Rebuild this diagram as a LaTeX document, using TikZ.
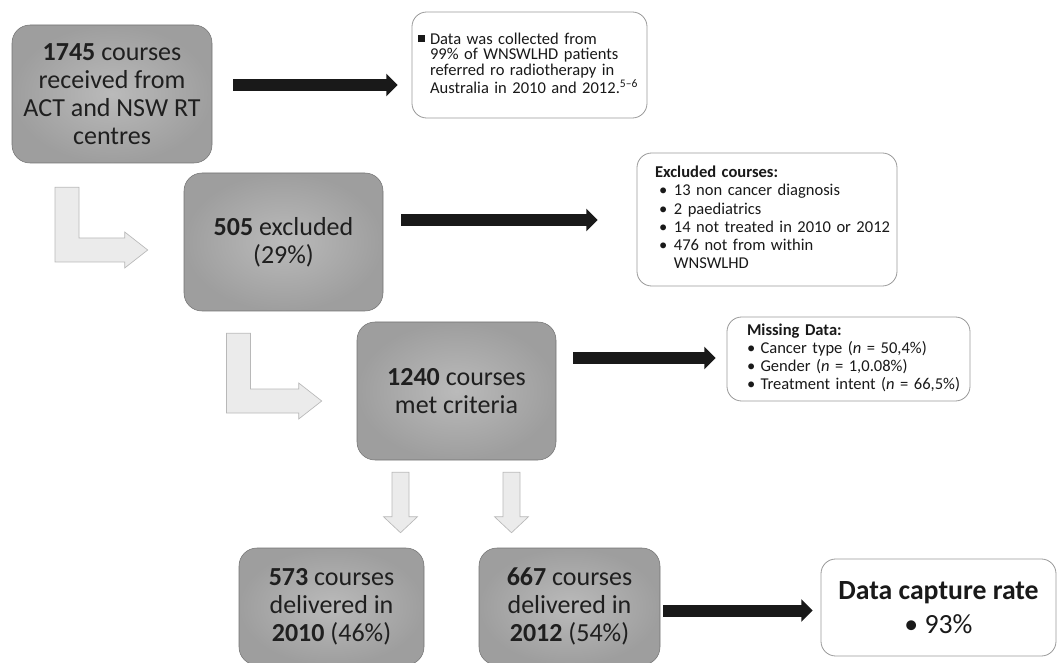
\documentclass[tikz,border=0pt]{standalone}
\usepackage{fontspec}
\setmainfont{Carlito}
\usetikzlibrary{arrows.meta,calc}

\tikzset{
  grbox/.style={rounded corners=13.5pt, draw=black!55, inner color=black!27, outer color=black!38,
    align=center, text=black!88, font=\fontsize{19.5}{21}\selectfont},
  notebox/.style={rounded corners=11pt, draw=black!40, line width=0.6pt, fill=white,
    align=left, text=black!90, font=\fontsize{12.4}{13.6}\selectfont},
  blackarr/.style={line width=9pt, draw=black!90, -{Triangle[length=8.5pt,width=16.5pt]}},
  lightarr/.style={fill=black!8, draw=black!28, line width=0.5pt},
}

% block arrows: L shape (top of bar, tip) and straight down (top, tip)
\newcommand{\lblock}[2]{%
  \filldraw[lightarr] ($(#1)+(-12,0)$) -- ($(#1)+(12,0)$) -- ($(#1 |- #2)+(12,-12)$)
    -- ($(#2)+(-23,-12)$) -- ($(#2)+(-23,-18)$) -- (#2) -- ($(#2)+(-23,18)$)
    -- ($(#2)+(-23,12)$) -- ($(#1 |- #2)+(-12,12)$) -- cycle;}
\newcommand{\dblock}[2]{%
  \filldraw[lightarr] ($(#1)+(-8.5,0)$) -- ($(#1)+(8.5,0)$) -- ($(#2)+(8.5,-16)$)
    -- ($(#2)+(17,-16)$) -- (#2) -- ($(#2)+(-17,-16)$) -- ($(#2)+(-8.5,-16)$) -- cycle;}

\begin{document}
\begin{tikzpicture}[x=0.75pt,y=0.75pt,yscale=-1,xscale=1]
  \useasboundingbox (0,0) rectangle (1058,663);

  % main boxes
  \node[grbox, minimum width=150pt, minimum height=103.5pt] (b1) at (112,94)
    {\textbf{1745} courses\\received from\\ACT and NSW RT\\centres};
  \node[grbox, minimum width=149.25pt, minimum height=103.5pt] (b2) at (283.5,242)
    {\textbf{505} excluded\\(29\%)};
  \node[grbox, minimum width=149.25pt, minimum height=103.5pt] (b3) at (456.5,391)
    {\textbf{1240} courses\\met criteria};
  \node[grbox, minimum width=138.75pt, minimum height=87.75pt] (b4) at (331.5,606.5)
    {\textbf{573} courses\\delivered in\\\textbf{2010} (46\%)};
  \node[grbox, minimum width=135.75pt, minimum height=87.75pt] (b5) at (569.5,606.5)
    {\textbf{667} courses\\delivered in\\\textbf{2012} (54\%)};

  % side notes
  \node[notebox, minimum width=176.25pt, minimum height=79.5pt, inner xsep=4.5pt, text width=167.25pt,
    font=\fontsize{12.4}{10.5}\selectfont] (n1) at (529.5,65)
    {\begin{tabular}{@{}l@{\hspace{4pt}}l@{}}
      \raisebox{1.5pt}{\rule{5pt}{5pt}} & Data was collected from\\
      & 99\% of WNSWLHD patients\\
      & referred ro radiotherapy in\\
      & Australia in 2010 and 2012.\textsuperscript{5–6}
    \end{tabular}};
  \node[notebox, minimum width=195pt, minimum height=99.75pt, inner xsep=13.5pt, text width=168pt] (n2) at (767,219.5)
    {\begin{tabular}{@{\hspace{3pt}}l@{\hspace{5pt}}l@{}}
      \multicolumn{2}{@{}l@{}}{\textbf{Excluded courses:}}\\
      • & 13 non cancer diagnosis\\
      • & 2 paediatrics\\
      • & 14 not treated in 2010 or 2012\\
      • & 476 not from within\\
        & WNSWLHD
    \end{tabular}};
  \node[notebox, minimum width=182.25pt, minimum height=63pt, inner xsep=15pt, text width=152.25pt] (n3) at (848.5,359)
    {\begin{tabular}{@{}l@{\hspace{4pt}}l@{}}
      \multicolumn{2}{@{}l@{}}{\textbf{Missing Data:}}\\
      • & Cancer type (\textit{n} = 50,4\%)\\
      • & Gender (\textit{n} = 1,0.08\%)\\
      • & Treatment intent (\textit{n} = 66,5\%)
    \end{tabular}};
  \node[notebox, minimum width=176.25pt, minimum height=72.75pt, align=center,
    font=\fontsize{20.8}{25}\selectfont] (n4) at (938.5,607.5)
    {\textbf{Data capture rate}\\• 93\%};

  % black arrows to the notes
  \draw[blackarr, shorten <=15.75pt, shorten >=10.5pt] ($(b1.east)+(0,-9)$) -- ($(n1.west |- b1.east)+(0,-9)$);
  \draw[blackarr, shorten <=13.5pt, shorten >=29.25pt] ($(b2.east)+(0,-22)$) -- ($(n2.west |- b2.east)+(0,-22)$);
  \draw[blackarr, shorten <=12.75pt, shorten >=8.25pt] ($(b3.east)+(0,-33)$) -- ($(n3.west |- b3.east)+(0,-33)$);
  \draw[blackarr, shorten <=2.25pt, shorten >=6pt] ($(b5.east)+(0,4)$) -- ($(n4.west |- b5.east)+(0,4)$);

  % light block arrows
  \coordinate (l1s) at ($(b1.south)+(-45,24)$);
  \coordinate (l1t) at ($(b2.west)+(-36,8)$);
  \coordinate (l2s) at ($(b2.south)+(-45,22)$);
  \coordinate (l2t) at ($(b3.west)+(-35,10)$);
  \lblock{l1s}{l1t}
  \lblock{l2s}{l2t}
  \coordinate (d1s) at ($(b3.south)+(-56,12)$);
  \coordinate (d1t) at ($(b4.north -| d1s)+(0,-15)$);
  \coordinate (d2s) at ($(b3.south)+(55,12)$);
  \coordinate (d2t) at ($(b5.north -| d2s)+(0,-15)$);
  \dblock{d1s}{d1t}
  \dblock{d2s}{d2t}
\end{tikzpicture}
\end{document}
